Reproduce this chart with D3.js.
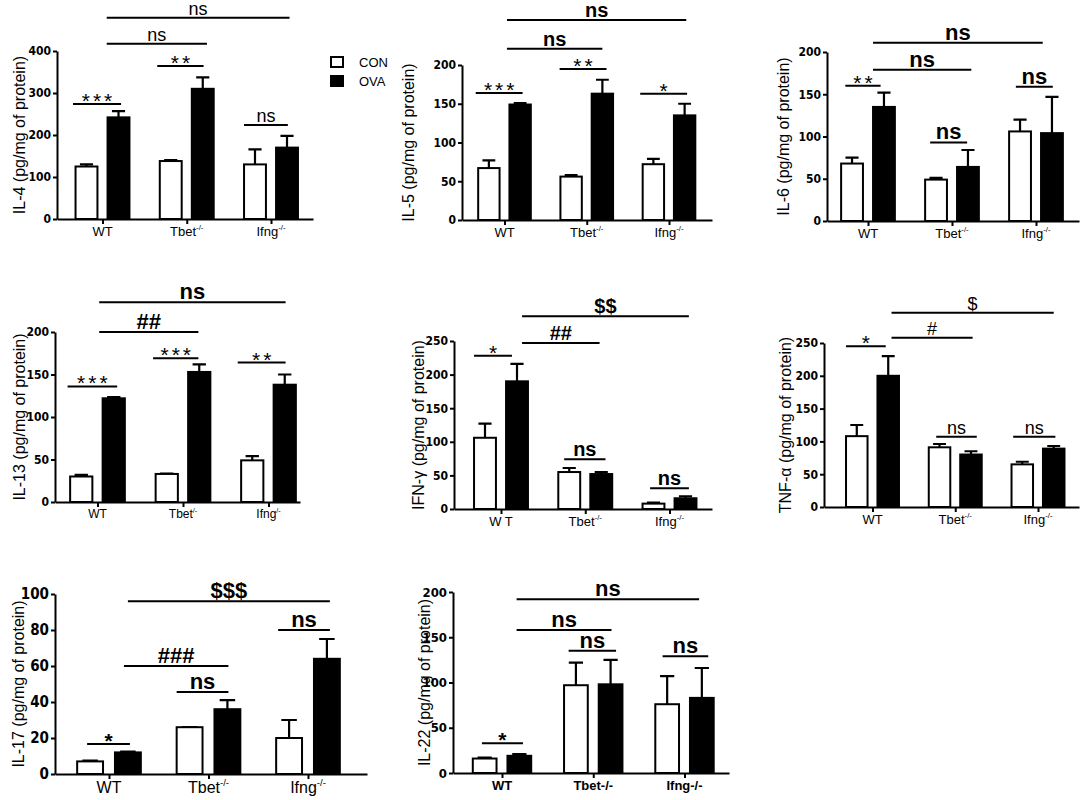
<!DOCTYPE html>
<html>
<head>
<meta charset="utf-8">
<script src="https://cdn.jsdelivr.net/npm/d3@7"></script>
<style>
  body { margin: 0; background: #fff; }
  svg { font-family: "Liberation Sans", Arial, sans-serif; }
</style>
</head>
<body>
<svg id="chart" width="1084" height="800"></svg>
<script>
// Groups and series
const groups = ["WT", "Tbet", "Ifng"];
const groupSup = ["", "-/-", "-/-"];
const series = ["CON", "OVA"];

// Means and SEM
const il4Con = [125, 138, 130], il4ConErr = [5, 2, 36];
const il4Ova = [242, 310, 170], il4OvaErr = [15, 27, 28];
const il5Con = [67, 56, 72], il5ConErr = [10, 2, 7];
const il5Ova = [149, 163, 135], il5OvaErr = [2, 18, 15];
const il6Con = [68, 49, 106], il6ConErr = [7, 2, 14];
const il6Ova = [135, 64, 104], il6OvaErr = [17, 20, 43];
const il13Con = [30, 33, 49], il13ConErr = [2, 0.5, 5];
const il13Ova = [122, 153, 138], il13OvaErr = [1.5, 9, 12];
const ifnCon = [106, 55, 8], ifnConErr = [21, 6, 1.5];
const ifnOva = [190, 52, 16], ifnOvaErr = [26, 3, 3];
const tnfCon = [108, 91, 65], tnfConErr = [17, 5, 4];
const tnfOva = [200, 80, 89], tnfOvaErr = [30, 5, 4];
const il17Con = [7, 26, 20], il17ConErr = [0.5, 0, 10];
const il17Ova = [12, 36, 64], il17OvaErr = [0.5, 5, 11];
const il22Con = [16, 97, 76], il22ConErr = [1, 25, 31];
const il22Ova = [19, 98, 83], il22OvaErr = [2, 27, 33];

// Y tick values
const ticks400 = [0, 100, 200, 300, 400];
const ticks200 = [0, 50, 100, 150, 200];
const ticks250 = [0, 50, 100, 150, 200, 250];
const ticks100 = [0, 20, 40, 60, 80, 100];

// Significance bars: [from, to (group units), height (data units), label]
const il4Sig = [[-0.35, 0.22, 274, "***"], [0.65, 1.2, 364, "**"], [1.68, 2.2, 224, "ns"],
                [0.05, 1.24, 417, "ns"], [0.05, 2.22, 479, "ns"]];
const il5Sig = [[-0.35, 0.22, 164, "***"], [0.67, 1.24, 195, "**"], [1.65, 2.22, 163, "*"],
                [0.03, 1.19, 221, "ns"], [0.03, 2.21, 258, "ns"]];
const il6Sig = [[-0.27, 0.15, 160, "**"], [0.74, 1.18, 93, "ns"], [1.76, 2.2, 159, "ns"],
                [0.06, 1.23, 179, "ns"], [0.06, 2.08, 211, "ns"]];
const il13Sig = [[-0.35, 0.23, 136, "***"], [0.65, 1.18, 169, "***"], [1.64, 2.2, 164, "**"],
                 [0.02, 1.18, 200, "##"], [0.02, 2.2, 235, "ns"]];
const ifnSig = [[-0.32, 0.13, 228, "*"], [0.25, 1.17, 247, "##"], [0.25, 2.23, 287, "$$"],
                [0.75, 1.24, 74, "ns"], [1.77, 2.23, 31, "ns"]];
const tnfSig = [[-0.32, 0.16, 245, "*"], [0.23, 1.21, 258, "#"], [0.23, 2.19, 296, "$"],
                [0.77, 1.26, 107, "ns"], [1.7, 2.21, 107, "ns"]];
const il17Sig = [[-0.22, 0.21, 16.7, "*"], [0.68, 1.2, 45.6, "ns"], [0.15, 1.2, 60, "###"],
                 [1.7, 2.22, 80, "ns"], [0.19, 2.22, 96, "$$$"]];
const il22Sig = [[-0.22, 0.23, 33, "*"], [0.73, 1.25, 135, "ns"], [1.76, 2.26, 129, "ns"],
                 [0.16, 1.2, 158, "ns"], [0.16, 2.16, 192, "ns"]];

const narrow = "'Liberation Sans Narrow', 'Arial Narrow', 'DejaVu Sans Condensed', sans-serif";
const svg = d3.select("#chart");

const panels = [
  { label: "IL-4 (pg/mg of protein)", con: il4Con, conErr: il4ConErr, ova: il4Ova, ovaErr: il4OvaErr,
    ticks: ticks400, sig: il4Sig, ax: [57, 313], cx: [102.5, 271], y0: 219, yTop: 51, lx: 19,
    tickFont: 12, catFont: 13, sigSize: 18, sigWeight: "normal" },
  { label: "IL-5 (pg/mg of protein)", con: il5Con, conErr: il5ConErr, ova: il5Ova, ovaErr: il5OvaErr,
    ticks: ticks200, sig: il5Sig, ax: [462, 712], cx: [504.5, 669], y0: 220, yTop: 65, lx: 408,
    tickFont: 12, catFont: 13, sigSize: 20, sigWeight: "bold" },
  { label: "IL-6 (pg/mg of protein)", con: il6Con, conErr: il6ConErr, ova: il6Ova, ovaErr: il6OvaErr,
    ticks: ticks200, sig: il6Sig, ax: [827, 1079], cx: [868, 1036], y0: 221, yTop: 52, lx: 783,
    tickFont: 12, catFont: 13, sigSize: 22, sigWeight: "bold" },
  { label: "IL-13 (pg/mg of protein)", con: il13Con, conErr: il13ConErr, ova: il13Ova, ovaErr: il13OvaErr,
    ticks: ticks200, sig: il13Sig, ax: [55, 300], cx: [97.5, 268.5], y0: 502, yTop: 332, lx: 19,
    tickFont: 12, catFont: 12, sigSize: 22, sigWeight: "bold", sup: ["", "/-", "/-"] },
  { label: "IFN-\u03b3 (pg/mg of protein)", con: ifnCon, conErr: ifnConErr, ova: ifnOva, ovaErr: ifnOvaErr,
    ticks: ticks250, sig: ifnSig, ax: [454, 712], cx: [501, 669.5], y0: 509, yTop: 341, lx: 418,
    tickFont: 12, catFont: 13, sigSize: 20, sigWeight: "bold", names: ["W T", "Tbet", "Ifng"] },
  { label: "TNF-\u03b1 (pg/mg of protein)", con: tnfCon, conErr: tnfConErr, ova: tnfOva, ovaErr: tnfOvaErr,
    ticks: ticks250, sig: tnfSig, ax: [824, 1079], cx: [872.5, 1038], y0: 507, yTop: 343, lx: 785,
    tickFont: 12, catFont: 13, sigSize: 18, sigWeight: "normal" },
  { label: "IL-17 (pg/mg of protein)", con: il17Con, conErr: il17ConErr, ova: il17Ova, ovaErr: il17OvaErr,
    ticks: ticks100, sig: il17Sig, ax: [55, 367], cx: [109, 308], y0: 774, yTop: 594, lx: 18,
    tickFont: 15, catFont: 16, sigSize: 22, sigWeight: "bold", starWeight: "bold" },
  { label: "IL-22 (pg/mg of protein)", con: il22Con, conErr: il22ConErr, ova: il22Ova, ovaErr: il22OvaErr,
    ticks: ticks200, sig: il22Sig, ax: [453, 729], cx: [502, 684.5], y0: 773, yTop: 592, lx: 424,
    tickFont: 13, catFont: 13, catWeight: "bold", sigSize: 22, sigWeight: "bold", starWeight: "bold",
    names: ["WT", "Tbet-/-", "Ifng-/-"], sup: ["", "", ""] }
];

const drawPanel = (p) => {
  const g = svg.append("g");
  const yMax = d3.max(p.ticks);
  const y = d3.scaleLinear().domain([0, yMax]).range([p.y0, p.yTop]);
  const x = d3.scaleLinear().domain([0, 2]).range(p.cx);
  const unit = x(1) - x(0);
  const barW = 0.26 * unit;
  const off = 0.19;

  // y axis
  const yAxis = g.append("g")
    .attr("transform", "translate(" + p.ax[0] + ",0)")
    .call(d3.axisLeft(y).tickValues(p.ticks).tickSize(4).tickSizeOuter(0).tickPadding(2));
  yAxis.selectAll("path, line").attr("stroke", "#000").attr("stroke-width", 2);
  yAxis.selectAll("text").attr("font-size", p.tickFont).attr("font-weight", "bold")
    .attr("font-family", narrow).attr("fill", "#000");

  // x axis
  const xa = d3.scaleLinear().domain([x.invert(p.ax[0]), x.invert(p.ax[1])]).range(p.ax);
  const xAxis = g.append("g")
    .attr("transform", "translate(0," + p.y0 + ")")
    .call(d3.axisBottom(xa).tickValues([0, 1, 2]).tickFormat("").tickSize(5).tickSizeOuter(0));
  xAxis.selectAll("path, line").attr("stroke", "#000").attr("stroke-width", 2);

  // category labels
  const names = p.names || groups;
  const sups = p.sup || groupSup;
  names.forEach((n, i) => {
    const t = g.append("text")
      .attr("x", x(i))
      .attr("y", p.y0 + 17 + (p.catFont - 13) * 0.6)
      .attr("text-anchor", "middle")
      .attr("font-size", p.catFont)
      .attr("font-weight", p.catWeight || "normal")
      .text(n);
    if (sups[i]) {
      t.append("tspan").attr("dy", -p.catFont * 0.45).attr("font-size", p.catFont * 0.6).text(sups[i]);
    }
  });

  // bars
  const rows = [];
  groups.forEach((grp, i) => {
    rows.push({ i: i, s: 0, v: p.con[i], e: p.conErr[i] });
    rows.push({ i: i, s: 1, v: p.ova[i], e: p.ovaErr[i] });
  });
  const cxOf = d => x(d.i + (d.s ? off : -off));

  // error bars (drawn first so that the bar outline sits on top)
  g.selectAll(".err").data(rows).enter().append("path")
    .attr("d", d => {
      const c = cxOf(d), top = y(d.v + d.e), cap = barW * 0.3;
      return "M" + c + "," + y(d.v) + "V" + top + "M" + (c - cap) + "," + top + "H" + (c + cap);
    })
    .attr("stroke", "#000").attr("stroke-width", 2.2).attr("fill", "none");

  g.selectAll(".bar").data(rows).enter().append("rect")
    .attr("x", d => cxOf(d) - barW / 2)
    .attr("y", d => y(d.v))
    .attr("width", barW)
    .attr("height", d => p.y0 - y(d.v))
    .attr("fill", d => d.s ? "#000" : "#fff")
    .attr("stroke", "#000").attr("stroke-width", 2);

  // significance brackets
  p.sig.forEach(s => {
    const ly = y(s[2]);
    g.append("line")
      .attr("x1", x(s[0])).attr("x2", x(s[1]))
      .attr("y1", ly).attr("y2", ly)
      .attr("stroke", "#000").attr("stroke-width", 2);
    const star = s[3].indexOf("*") >= 0;
    g.append("text")
      .attr("x", (x(s[0]) + x(s[1])) / 2)
      .attr("y", star ? ly + 4 : ly - 3)
      .attr("text-anchor", "middle")
      .attr("font-size", star ? 21 : p.sigSize)
      .attr("font-weight", star ? (p.starWeight || "normal") : p.sigWeight)
      .attr("letter-spacing", star ? 3 : 0)
      .attr("dx", star ? 1.5 : 0)
      .text(s[3]);
  });

  // y label
  g.append("text")
    .attr("transform", "translate(" + p.lx + "," + ((p.y0 + p.yTop) / 2) + ") rotate(-90)")
    .attr("text-anchor", "middle")
    .attr("dy", "0.35em")
    .attr("font-size", 16)
    .text(p.label);
};

panels.forEach(drawPanel);

// legend
const legend = svg.append("g");
series.forEach((s, i) => {
  legend.append("rect")
    .attr("x", 331).attr("y", 57 + i * 19)
    .attr("width", 12).attr("height", 10)
    .attr("fill", i ? "#000" : "#fff")
    .attr("stroke", "#000").attr("stroke-width", 2);
  legend.append("text")
    .attr("x", 359).attr("y", 67 + i * 19)
    .attr("font-size", 13)
    .text(s);
});
</script>
</body>
</html>
